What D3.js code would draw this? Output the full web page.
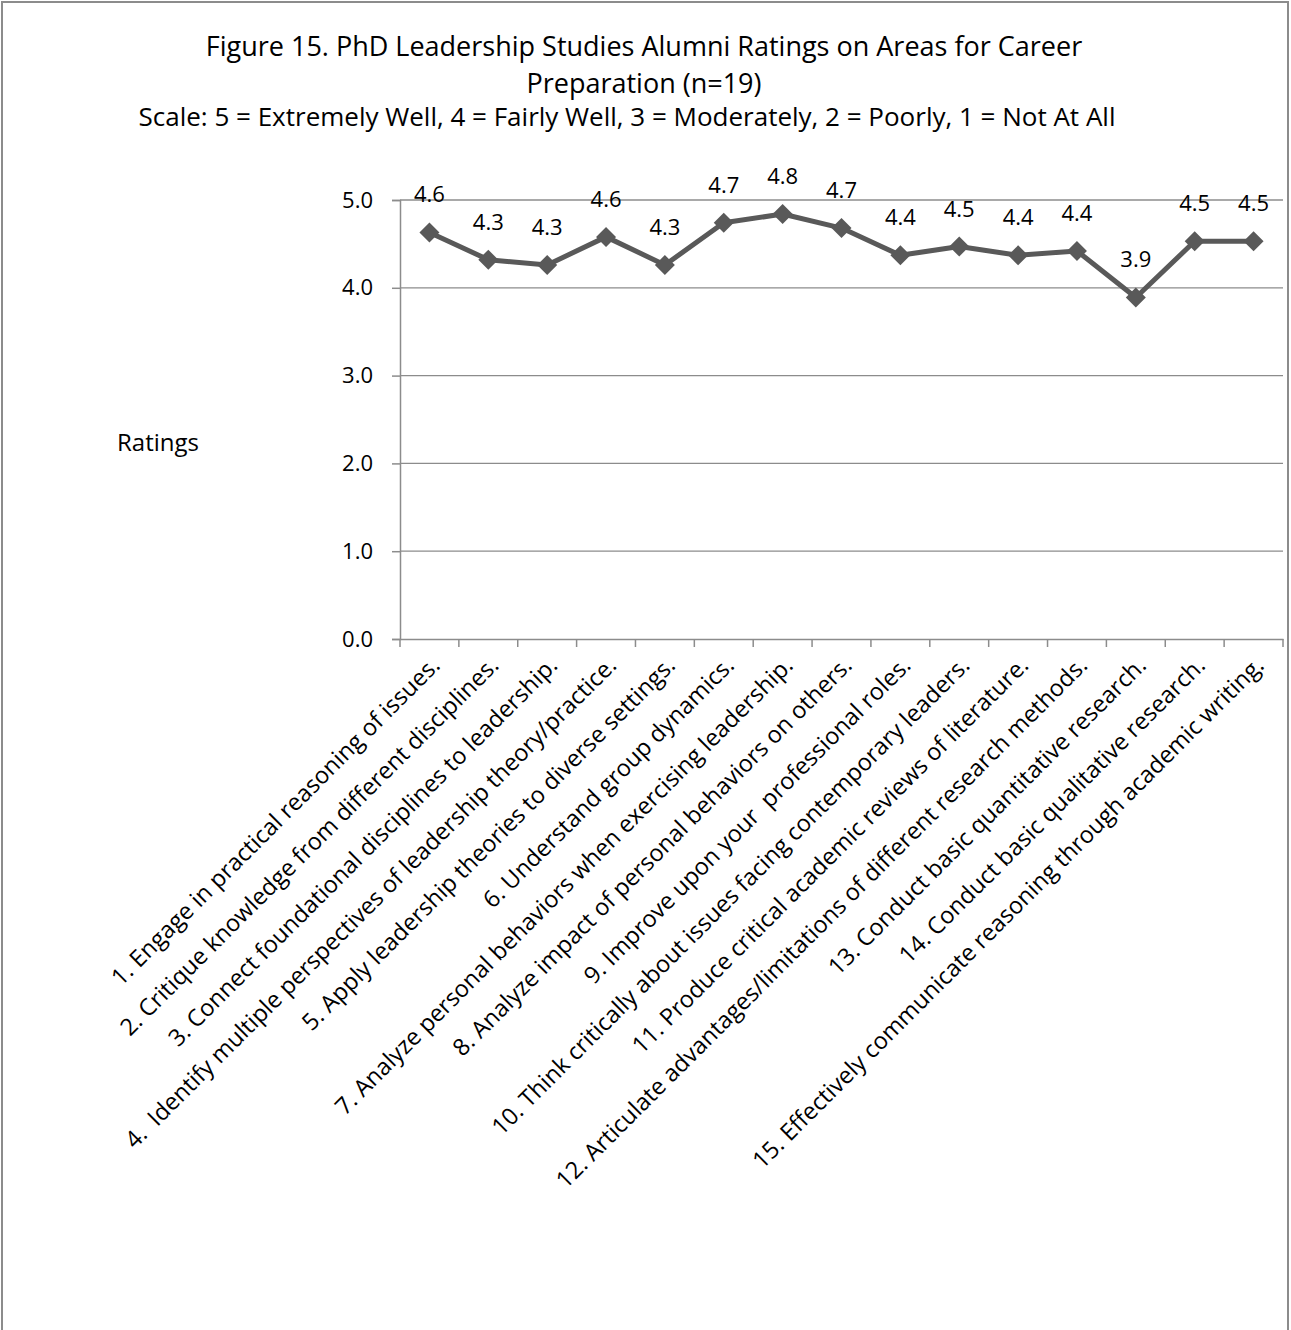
<!DOCTYPE html>
<html>
<head>
<meta charset="utf-8">
<script src="https://cdn.jsdelivr.net/npm/d3@7"></script>
<style>
  html, body { margin: 0; padding: 0; background: #fff; }
  svg { display: block; }
  text { font-family: "Open Sans", "Noto Sans", sans-serif; fill: #000; }
</style>
</head>
<body>
<svg id="chart" width="1291" height="1330"></svg>
<script>
const categories = [
  "1. Engage in practical reasoning of issues.",
  "2. Critique knowledge from different disciplines.",
  "3. Connect foundational disciplines to leadership.",
  "4.  Identify multiple perspectives of leadership theory/practice.",
  "5. Apply leadership theories to diverse settings.",
  "6. Understand group dynamics.",
  "7. Analyze personal behaviors when exercising leadership.",
  "8. Analyze impact of personal behaviors on others.",
  "9. Improve upon your  professional roles.",
  "10. Think critically about issues facing contemporary leaders.",
  "11. Produce critical academic reviews of literature.",
  "12. Articulate advantages/limitations of different research methods.",
  "13. Conduct basic quantitative research.",
  "14. Conduct basic qualitative research.",
  "15. Effectively communicate reasoning through academic writing."
];
const ratings = [4.63, 4.32, 4.26, 4.58, 4.26, 4.74, 4.84, 4.68, 4.37, 4.47, 4.37, 4.42, 3.89, 4.53, 4.53];
const yTicks = [0, 1, 2, 3, 4, 5];
const titleLines = ["Figure 15. PhD Leadership Studies Alumni Ratings on Areas for Career", "Preparation (n=19)"];
const subtitle = "Scale: 5 = Extremely Well, 4 = Fairly Well, 3 = Moderately, 2 = Poorly, 1 = Not At All";
const yAxisTitle = "Ratings";

const svg = d3.select("#chart");

// outer frame
svg.append("rect").attr("x", 2).attr("y", 2).attr("width", 1286).attr("height", 1400)
  .attr("fill", "none").attr("stroke", "#8c8c8c").attr("stroke-width", 2);

const plot = { left: 400, right: 1283, top: 200, bottom: 639 };

const x = d3.scaleBand().domain(categories).range([plot.left, plot.right]).padding(0);
const y = d3.scaleLinear().domain([0, 5]).range([plot.bottom, plot.top]);

// title
svg.append("text").attr("x", 644).attr("y", 56).attr("text-anchor", "middle")
  .style("font-size", "27px").text(titleLines[0]);
svg.append("text").attr("x", 644).attr("y", 93).attr("text-anchor", "middle")
  .style("font-size", "27px").text(titleLines[1]);
svg.append("text").attr("x", 627).attr("y", 126).attr("text-anchor", "middle")
  .style("font-size", "26px").text(subtitle);

// gridlines
svg.append("g").selectAll("line").data(yTicks.filter(d => d > 0)).join("line")
  .attr("x1", plot.left).attr("x2", plot.right)
  .attr("y1", d => y(d)).attr("y2", d => y(d))
  .attr("stroke", "#8c8c8c").attr("stroke-width", 1.3);

// y axis
const yAxis = d3.axisLeft(y).tickValues(yTicks).tickFormat(d3.format(".1f")).tickSize(8).tickPadding(19);
const gy = svg.append("g").attr("transform", `translate(${plot.left},0)`).call(yAxis);
gy.select(".domain").attr("stroke", "#8c8c8c").attr("stroke-width", 1.5);
gy.selectAll(".tick line").attr("stroke", "#8c8c8c").attr("stroke-width", 1.5);
gy.selectAll(".tick text").style("font-size", "22px").style("font-family", "'Open Sans', sans-serif").attr("fill", "#000");

// x axis
const xAxis = d3.axisBottom(x).tickSize(0).tickFormat("");
const gx = svg.append("g").attr("transform", `translate(0,${plot.bottom})`).call(xAxis);
gx.select(".domain").attr("stroke", "#8c8c8c").attr("stroke-width", 1.5);
const bounds = categories.map(c => x(c)).concat([x(categories[categories.length - 1]) + x.bandwidth()]);
gx.append("g").selectAll("line").data(bounds).join("line")
  .attr("x1", d => d).attr("x2", d => d).attr("y1", 0).attr("y2", 8)
  .attr("stroke", "#8c8c8c").attr("stroke-width", 1.5);

// x labels rotated
svg.append("g").selectAll("text").data(categories).join("text")
  .attr("transform", d => `translate(${x(d) + x.bandwidth() / 2 + 6},${plot.bottom + 22}) rotate(-45)`)
  .attr("text-anchor", "end")
  .attr("dy", "0.35em")
  .style("font-size", "23.5px")
  .style("white-space", "pre")
  .attr("xml:space", "preserve")
  .text(d => d);

// y axis title
svg.append("text").attr("x", 117).attr("y", 451).style("font-size", "24px").text(yAxisTitle);

// line
const pts = categories.map((c, i) => ({ c, v: ratings[i] }));
const line = d3.line().x(d => x(d.c) + x.bandwidth() / 2).y(d => y(d.v));
svg.append("path").datum(pts).attr("d", line)
  .attr("fill", "none").attr("stroke", "#595959").attr("stroke-width", 5).attr("stroke-linejoin", "round");

// diamond markers
const r = 10;
svg.append("g").selectAll("path").data(pts).join("path")
  .attr("d", d => {
    const cx = x(d.c) + x.bandwidth() / 2, cy = y(d.v);
    return `M${cx},${cy - r}L${cx + r},${cy}L${cx},${cy + r}L${cx - r},${cy}Z`;
  })
  .attr("fill", "#595959");

// data labels
svg.append("g").selectAll("text").data(pts).join("text")
  .attr("x", d => x(d.c) + x.bandwidth() / 2)
  .attr("y", d => y(d.v) - 30)
  .attr("text-anchor", "middle")
  .style("font-size", "22px")
  .text(d => d3.format(".1f")(d.v));
</script>
</body>
</html>
